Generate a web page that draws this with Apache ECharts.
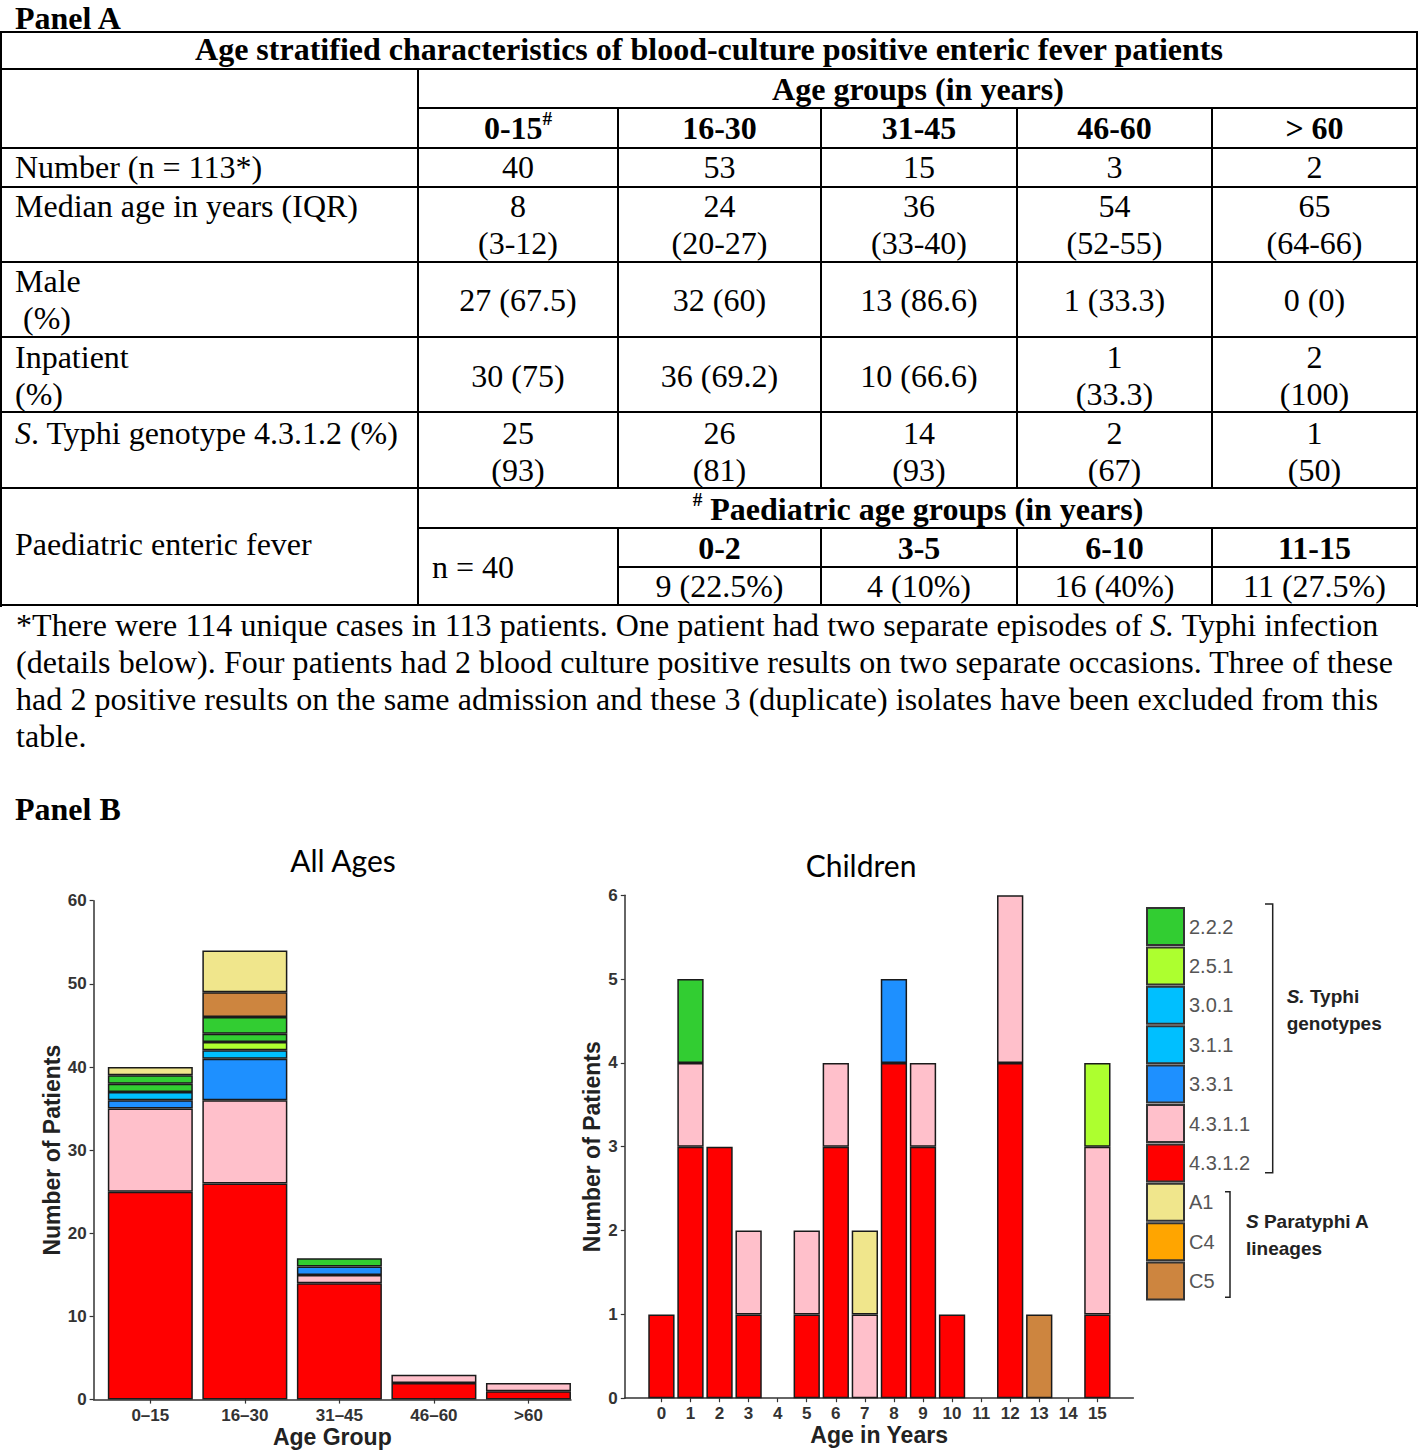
<!DOCTYPE html>
<html>
<head>
<meta charset="utf-8">
<script src="https://cdn.jsdelivr.net/npm/echarts@6/dist/echarts.min.js"></script>
<style>
html,body{margin:0;padding:0;background:#fff;}
body{width:1418px;height:1451px;position:relative;overflow:hidden;font-family:"Liberation Serif","Times New Roman",serif;color:#000;}
.t{position:absolute;font-size:32px;line-height:37px;white-space:nowrap;}
.c{text-align:center;transform:translateX(-50%);}
.b{font-weight:bold;}
.ln{position:absolute;background:#000;}
#chartB{position:absolute;left:0;top:830px;width:1418px;height:621px;}
sup{font-size:60%;line-height:0;vertical-align:0.75em;}
</style>
</head>
<body>
<div id="panelA"></div>
<div id="chartB"></div>
<script>
// ---------------- Panel A data ----------------
const tableTitle = 'Age stratified characteristics of blood-culture positive enteric fever patients';
const ageHeader = 'Age groups (in years)';
const ageGroupLabels = ['0-15', '16-30', '31-45', '46-60', '> 60'];
const rowNumber = ['40', '53', '15', '3', '2'];
const rowMedian = [['8', '(3-12)'], ['24', '(20-27)'], ['36', '(33-40)'], ['54', '(52-55)'], ['65', '(64-66)']];
const rowMale = [['27 (67.5)'], ['32 (60)'], ['13 (86.6)'], ['1 (33.3)'], ['0 (0)']];
const rowInpatient = [['30 (75)'], ['36 (69.2)'], ['10 (66.6)'], ['1', '(33.3)'], ['2', '(100)']];
const rowTyphi4312 = [['25', '(93)'], ['26', '(81)'], ['14', '(93)'], ['2', '(67)'], ['1', '(50)']];
const paedHeader = 'Paediatric age groups (in years)';
const paedN = 'n = 40';
const paedGroups = ['0-2', '3-5', '6-10', '11-15'];
const paedCounts = ['9 (22.5%)', '4 (10%)', '16 (40%)', '11 (27.5%)'];
const footnoteLines = [
  '*There were 114 unique cases in 113 patients. One patient had two separate episodes of <i>S.</i> Typhi infection',
  '(details below). Four patients had 2 blood culture positive results on two separate occasions. Three of these',
  'had 2 positive results on the same admission and these 3 (duplicate) isolates have been excluded from this',
  'table.'
];

// ---------------- Panel B data ----------------
const ageGroups = ['0–15', '16–30', '31–45', '46–60', '>60'];
const all4312 = [25, 26, 14, 2, 1];
const all4311 = [10, 10, 1, 1, 1];
const all331 = [1, 5, 1, 0, 0];
const all311 = [1, 1, 0, 0, 0];
const all301 = [0, 0, 0, 0, 0];
const all251 = [0, 1, 0, 0, 0];
const all222 = [1, 1, 1, 0, 0];
const all222b = [1, 2, 0, 0, 0];
const allC4 = [0, 0, 0, 0, 0];
const allC5 = [0, 3, 0, 0, 0];
const allA1 = [1, 5, 0, 0, 0];

const childAges = [0, 1, 2, 3, 4, 5, 6, 7, 8, 9, 10, 11, 12, 13, 14, 15];
const kid4312 = [1, 3, 3, 1, 0, 1, 3, 0, 4, 3, 1, 0, 4, 0, 0, 1];
const kid4311 = [0, 1, 0, 1, 0, 1, 1, 1, 0, 1, 0, 0, 2, 0, 0, 2];
const kid331 = [0, 0, 0, 0, 0, 0, 0, 0, 1, 0, 0, 0, 0, 0, 0, 0];
const kid311 = [0, 0, 0, 0, 0, 0, 0, 0, 0, 0, 0, 0, 0, 0, 0, 0];
const kid301 = [0, 0, 0, 0, 0, 0, 0, 0, 0, 0, 0, 0, 0, 0, 0, 0];
const kid251 = [0, 0, 0, 0, 0, 0, 0, 0, 0, 0, 0, 0, 0, 0, 0, 1];
const kid222 = [0, 1, 0, 0, 0, 0, 0, 0, 0, 0, 0, 0, 0, 0, 0, 0];
const kidC4 = [0, 0, 0, 0, 0, 0, 0, 0, 0, 0, 0, 0, 0, 0, 0, 0];
const kidC5 = [0, 0, 0, 0, 0, 0, 0, 0, 0, 0, 0, 0, 0, 1, 0, 0];
const kidA1 = [0, 0, 0, 0, 0, 0, 0, 1, 0, 0, 0, 0, 0, 0, 0, 0];

const legendOrder = ['2.2.2', '2.5.1', '3.0.1', '3.1.1', '3.3.1', '4.3.1.1', '4.3.1.2', 'A1', 'C4', 'C5'];
const yTicksAll = [0, 10, 20, 30, 40, 50, 60];
const yTicksKids = [0, 1, 2, 3, 4, 5, 6];

// ---------------- styles ----------------
const genoColors = {
  '2.2.2': '#32CD32', '2.5.1': '#ADFF2F', '3.0.1': '#00BFFF', '3.1.1': '#00BFFF', '3.3.1': '#1E90FF',
  '4.3.1.1': '#FFC0CB', '4.3.1.2': '#FF0000', 'A1': '#F0E68C', 'C4': '#FFA500', 'C5': '#CD853F'
};

// ---------------- build Panel A ----------------
const root = document.getElementById('panelA');
function addText(x, yCap, html, cls) {
  const d = document.createElement('div');
  d.className = 't ' + (cls || '');
  d.style.left = x + 'px';
  d.style.top = (yCap - 18.7) + 'px';
  d.innerHTML = html;
  root.appendChild(d);
  return d;
}
function addLine(x, y, w, h) {
  const d = document.createElement('div');
  d.className = 'ln';
  d.style.left = x + 'px'; d.style.top = y + 'px';
  d.style.width = w + 'px'; d.style.height = h + 'px';
  root.appendChild(d);
}
const colX = [1, 418, 618, 821, 1017, 1212, 1417];
const colC = [518, 719.5, 919, 1114.5, 1314.5];
const LW = 2;
[32, 69, 148, 187, 262, 337, 412, 488, 605].forEach(y => addLine(colX[0], y - 1, colX[6] - colX[0] + LW, LW));
addLine(colX[1], 107, colX[6] - colX[1], LW);
addLine(colX[1], 527, colX[6] - colX[1], LW);
addLine(colX[2], 566, colX[6] - colX[2], LW);
addLine(colX[0] - 1, 31, LW, 576);
addLine(colX[6] - 1, 31, LW, 576);
addLine(colX[1] - 1, 68, LW, 538);
for (let k = 2; k <= 5; k++) {
  addLine(colX[k] - 1, 107, LW, 381);
  addLine(colX[k] - 1, 527, LW, 79);
}

const panelA = addText(15, 0, 'Panel A', 'b');
panelA.style.top = '4px';
panelA.style.lineHeight = '28px';
addText(709, 50, tableTitle, 'b c');
addText(918, 90, ageHeader, 'b c');
ageGroupLabels.forEach((g, i) => addText(colC[i], 129, g + (i === 0 ? '<sup>#</sup>' : ''), 'b c'));
addText(15, 168, 'Number (n = 113*)');
rowNumber.forEach((v, i) => addText(colC[i], 168, v, 'c'));
addText(15, 207, 'Median age in years (IQR)');
rowMedian.forEach((v, i) => addText(colC[i], 207, v.join('<br>'), 'c'));
addText(15, 282, 'Male<br>&nbsp;(%)');
rowMale.forEach((v, i) => addText(colC[i], 301, v.join('<br>'), 'c'));
addText(15, 358, 'Inpatient<br>(%)');
rowInpatient.forEach((v, i) => addText(colC[i], v.length > 1 ? 358 : 377, v.join('<br>'), 'c'));
addText(15, 434, '<i>S</i>. Typhi genotype 4.3.1.2 (%)');
rowTyphi4312.forEach((v, i) => addText(colC[i], 434, v.join('<br>'), 'c'));
addText(15, 545, 'Paediatric enteric fever');
addText(918, 510, '<sup>#</sup>&nbsp;' + paedHeader, 'b c');
addText(432, 568, paedN);
paedGroups.forEach((g, i) => addText(colC[i + 1], 549, g, 'b c'));
paedCounts.forEach((g, i) => addText(colC[i + 1], 587, g, 'c'));
footnoteLines.forEach((l, i) => {
  const d = addText(16, 626 + 37 * i, l);
  d.style.letterSpacing = '0.05px';
});
addText(15, 810, 'Panel B', 'b');

// ---------------- Panel B chart ----------------
const chart = echarts.init(document.getElementById('chartB'), null, { renderer: 'svg' });
const AX = '#333';
const labelFont = { color: '#333', fontSize: 17, fontWeight: 'bold', fontFamily: 'Liberation Sans, Arial, sans-serif' };
const nameFont = { color: '#222', fontSize: 23, fontWeight: 'bold', fontFamily: 'Liberation Sans, Arial, sans-serif' };

// value first, position second, so the value dimension is the one stacked
function mkSeries(name, vals, xs, idx, stack, bw) {
  return {
    type: 'bar', name, xAxisIndex: idx, yAxisIndex: idx, stack, barWidth: bw,
    data: vals.map((v, i) => [v > 0 ? v : '-', xs[i]]),
    encode: { x: 1, y: 0 },
    itemStyle: { color: genoColors[name], borderColor: '#1a1a1a', borderWidth: 1.5 },
    emphasis: { disabled: true }, silent: true
  };
}
const catPos = ageGroups.map((g, i) => i + 1);
const allDefs = [['4.3.1.2', all4312], ['4.3.1.1', all4311], ['3.3.1', all331], ['3.1.1', all311], ['3.0.1', all301],
  ['2.5.1', all251], ['2.2.2', all222], ['2.2.2', all222b], ['C4', allC4], ['C5', allC5], ['A1', allA1]];
const kidDefs = [['4.3.1.2', kid4312], ['4.3.1.1', kid4311], ['3.3.1', kid331], ['3.1.1', kid311], ['3.0.1', kid301],
  ['2.5.1', kid251], ['2.2.2', kid222], ['C4', kidC4], ['C5', kidC5], ['A1', kidA1]];
const series = [];
allDefs.forEach(d => series.push(mkSeries(d[0], d[1], catPos, 0, 'all', 85)));
kidDefs.forEach(d => series.push(mkSeries(d[0], d[1], childAges, 1, 'kids', 26.3)));

function xAxisCfg(idx, min, max, vals, fmt, name) {
  return {
    type: 'value', gridIndex: idx, min, max,
    axisLine: { show: true, onZero: false, lineStyle: { color: AX, width: 1.5 } },
    axisTick: { show: true, customValues: vals, length: 4, lineStyle: { color: AX, width: 1.2 } },
    axisLabel: { customValues: vals, formatter: fmt, margin: 7, ...labelFont },
    splitLine: { show: false },
    name, nameLocation: 'middle', nameGap: 25.5, nameMoveOverlap: false, nameTextStyle: nameFont
  };
}
function yAxisCfg(idx, ticks, gap) {
  return {
    type: 'value', gridIndex: idx, min: ticks[0], max: ticks[ticks.length - 1], interval: ticks[1] - ticks[0],
    axisLine: { show: true, onZero: false, lineStyle: { color: AX, width: 1.5 } },
    axisTick: { show: true, length: 4, lineStyle: { color: AX, width: 1.2 } },
    axisLabel: { margin: 7, ...labelFont },
    splitLine: { show: false },
    name: 'Number of Patients', nameLocation: 'middle', nameGap: gap, nameTextStyle: nameFont
  };
}

const txtFont = 'Liberation Sans, Arial, sans-serif';
const option = {
  animation: false,
  backgroundColor: 'transparent',
  grid: [
    { left: 93.6, top: 70.7, width: 477.4, height: 498.9, outerBoundsMode: 'none', containLabel: false },
    { left: 624.8, top: 65.3, width: 508.6, height: 502.9, outerBoundsMode: 'none', containLabel: false }
  ],
  xAxis: [
    xAxisCfg(0, 0.4, 5.45, catPos, v => ageGroups[Math.round(v) - 1], 'Age Group'),
    xAxisCfg(1, -1.26, 16.24, childAges, v => String(Math.round(v)), 'Age in Years')
  ],
  yAxis: [yAxisCfg(0, yTicksAll, 30), yAxisCfg(1, yTicksKids, 21)],
  legend: {
    orient: 'vertical', left: 1146, top: 77, padding: 0,
    itemWidth: 37, itemHeight: 37, itemGap: 0.4, icon: 'rect', selectedMode: false,
    data: legendOrder,
    itemStyle: { borderColor: '#333', borderWidth: 2 },
    textStyle: { color: '#555', fontSize: 20, fontFamily: txtFont }
  },
  series,
  graphic: [
    { type: 'text', x: 343, y: 30, style: { text: 'All Ages', align: 'center', verticalAlign: 'middle', fontSize: 30, fontFamily: 'Lato, Open Sans, sans-serif', fill: '#000' } },
    { type: 'text', x: 861, y: 35, style: { text: 'Children', align: 'center', verticalAlign: 'middle', fontSize: 30, fontFamily: 'Lato, Open Sans, sans-serif', fill: '#000' } },
    { type: 'polyline', shape: { points: [[1265, 74], [1272.7, 74], [1272.7, 342.7], [1265, 342.7]] }, style: { stroke: '#222', lineWidth: 1.5, fill: null } },
    { type: 'polyline', shape: { points: [[1225, 361.7], [1230, 361.7], [1230, 467.3], [1225, 467.3]] }, style: { stroke: '#222', lineWidth: 1.5, fill: null } },
    { type: 'text', x: 1286.7, y: 152.5, style: {
      text: '{i|S.} Typhi\ngenotypes', verticalAlign: 'top', fontSize: 19, fontWeight: 'bold', fontFamily: txtFont, lineHeight: 27, fill: '#222',
      rich: { i: { fontStyle: 'italic', fontWeight: 'bold', fontSize: 19, fontFamily: txtFont, lineHeight: 27, fill: '#222' } } } },
    { type: 'text', x: 1246, y: 378, style: {
      text: '{i|S} Paratyphi A\nlineages', verticalAlign: 'top', fontSize: 19, fontWeight: 'bold', fontFamily: txtFont, lineHeight: 27, fill: '#222',
      rich: { i: { fontStyle: 'italic', fontWeight: 'bold', fontSize: 19, fontFamily: txtFont, lineHeight: 27, fill: '#222' } } } }
  ]
};
chart.setOption(option);
</script>
</body>
</html>
